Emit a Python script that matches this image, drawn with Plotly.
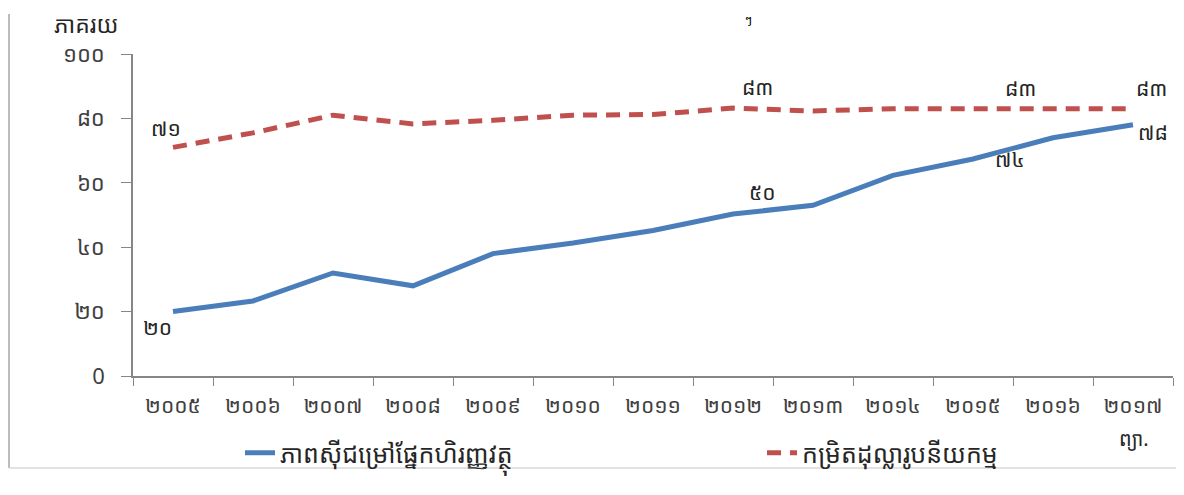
import plotly.graph_objects as go

years = ["២០០៥", "២០០៦", "២០០៧", "២០០៨", "២០០៩", "២០១០", "២០១១",
         "២០១២", "២០១៣", "២០១៤", "២០១៥", "២០១៦", "២០១៧"]
financial_depth = [20, 23.3, 32, 28, 38, 41.3, 45.2, 50.3, 53, 62.3, 67.4, 74, 78]
dollarization = [71, 75.5, 81, 78.3, 79.4, 81, 81.2, 83.2, 82.3, 83, 83, 83, 83]
series_names = ["ភាពស៊ីជម្រៅផ្នែកហិរញ្ញវត្ថុ", "កម្រិតដុល្លារូបនីយកម្ម"]
y_ticks = [0, 20, 40, 60, 80, 100]
y_tick_labels = ["0", "២០", "៤០", "៦០", "៨០", "១០០"]
y_title = "ភាគរយ"
x_title = "ព្យា."

blue_labels = [(0, "២០"), (7, "៥០"), (11, "៧៤"), (12, "៧៨")]
red_labels = [(0, "៧១"), (7, "៨៣"), (11, "៨៣"), (12, "៨៣")]

FONT = "Noto Sans Khmer, Noto Sans, DejaVu Sans, sans-serif"
OFF = 8  # page body margin
W, H = 1184 - OFF, 495 - OFF
L, R, T = 133 - OFF, 11, 54 - OFF
B = H - (376 - OFF)
PW, PH = W - L - R, H - T - B

def px(x):
    return (x - OFF - L) / PW

def py(y):
    return (H - B - (y - OFF)) / PH

fig = go.Figure()
fig.add_trace(go.Scatter(x=years, y=financial_depth, mode="lines",
                         name=series_names[0], legend="legend",
                         line=dict(color="#4A7EBB", width=5)))
fig.add_trace(go.Scatter(x=years, y=dollarization, mode="lines",
                         name=series_names[1], legend="legend2",
                         line=dict(color="#C0504D", width=5, dash="14px,9px")))

LBL = dict(size=21, color="#262626", family=FONT)
ann = []
shifts_blue = [(-16, -15), (29, 22), (-43, -21), (20, -7)]
for (i, t), (dx, dy) in zip(blue_labels, shifts_blue):
    ann.append(dict(x=years[i], y=financial_depth[i], text=t, showarrow=False,
                    xshift=dx, yshift=dy, font=LBL))
shifts_red = [(-7, 19), (24, 21), (-33, 21), (18, 21)]
for (i, t), (dx, dy) in zip(red_labels, shifts_red):
    ann.append(dict(x=years[i], y=dollarization[i], text=t, showarrow=False,
                    xshift=dx, yshift=dy, font=LBL))

CM = dict(xref="paper", yref="paper", showarrow=False, xanchor="center", yanchor="middle")
ann.append(dict(x=px(86), y=py(24), text=y_title,
                font=dict(size=23, color="#262626", family=FONT), **CM))
ann.append(dict(x=px(1134), y=py(438), text=x_title,
                font=dict(size=20, color="#262626", family=FONT), **CM))
ann.append(dict(x=px(748), y=py(20), text="ៗ",
                font=dict(size=12, color="#000000", family=FONT), **CM))

LEG = dict(size=25, color="#262626", family=FONT)
fig.update_layout(
    width=W, height=H,
    margin=dict(l=L, r=R, t=T, b=B, autoexpand=False),
    paper_bgcolor="white", plot_bgcolor="white",
    font=dict(family=FONT, size=21, color="#404040"),
    showlegend=True,
    legend=dict(orientation="h", x=px(240), y=py(453), xanchor="left", yanchor="middle",
                font=LEG, bgcolor="rgba(0,0,0,0)"),
    legend2=dict(orientation="h", x=px(762), y=py(453), xanchor="left", yanchor="middle",
                 font=LEG, bgcolor="rgba(0,0,0,0)"),
    xaxis=dict(type="category", tickson="boundaries", ticks="outside", ticklen=8,
               tickcolor="#868686", showline=True, linecolor="#868686", linewidth=1.5,
               showgrid=False, zeroline=False, range=[-0.5, 12.5],
               ticklabelstandoff=10,
               tickfont=dict(size=21, color="#404040")),
    yaxis=dict(range=[0, 100], tickvals=y_ticks, ticktext=y_tick_labels,
               ticks="outside", ticklen=10, tickcolor="#868686",
               showline=True, linecolor="#868686", linewidth=1.5,
               showgrid=False, zeroline=False, ticklabelstandoff=12,
               tickfont=dict(size=22, color="#404040")),
    annotations=ann,
    shapes=[
        dict(type="line", xref="paper", yref="paper", x0=px(9), x1=px(9), y0=py(14), y1=py(468),
             line=dict(color="#A6A6A6", width=1.5)),
        dict(type="line", xref="paper", yref="paper", x0=px(9), x1=px(1184), y0=py(468), y1=py(468),
             line=dict(color="#D9D9D9", width=1.5)),
    ],
)

fig.write_html("out.html")
